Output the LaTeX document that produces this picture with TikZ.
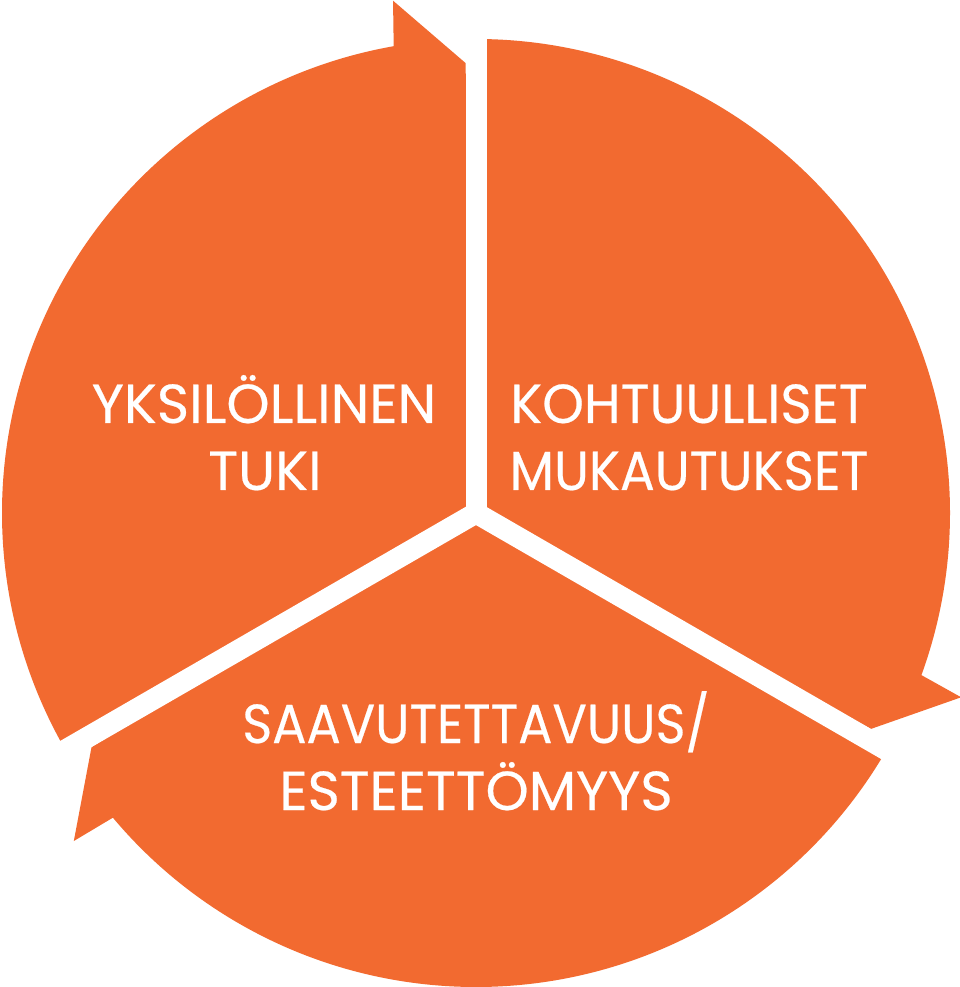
\documentclass[tikz,border=0pt]{standalone}
\usepackage{fontspec}
\setmainfont{Poppins}[FakeBold=0.4]
\usetikzlibrary{calc}
\definecolor{orng}{HTML}{F26A30}
\begin{document}
\begin{tikzpicture}[x=1pt,y=1pt,
  sectorfill/.style={fill=orng},
  gapline/.style={draw=white,line width=21pt,line cap=round},
  lbl/.style={text=white,font=\fontsize{55}{66}\selectfont,anchor=base,inner sep=0pt}]
\fill[white] (-476,-474) rectangle (484,513);
\useasboundingbox (-476,-474) rectangle (484,513);
\coordinate (ctr) at (0,0);
\foreach \h in {90,-30,210}{
  \pgfmathsetmacro{\t}{\h+120}
  \pgfmathsetmacro{\e}{\h+10}
  \pgfmathsetmacro{\b}{\h+9.2}
  \pgfmathsetmacro{\p}{\h+90}
  \fill[sectorfill] (ctr) -- (\t:474) arc[start angle=\t, end angle=\e, radius=474pt]
     -- (\b:519) -- ($(\h:450)+(\p:10.5)$) -- cycle;
}
\foreach \a in {90,210,330}{
  \draw[gapline] (ctr) -- (\a:500);
}
\node[lbl] (l1) at (-212,90) {YKSILÖLLINEN};
\node[lbl] (l2) at (-211,23) {TUKI};
\node[lbl] (r1) at (213,90) {\scalebox{0.967}[1]{KOHTUULLISET}};
\node[lbl] (r2) at (213,23) {\scalebox{0.94}[1]{MUKAUTUKSET}};
\node[lbl] (b1) at (0,-230) {\scalebox{0.925}[1]{SAAVUTETTAVUUS/}};
\node[lbl] (b2) at (0,-297) {ESTEETTÖMYYS};
\end{tikzpicture}
\end{document}
